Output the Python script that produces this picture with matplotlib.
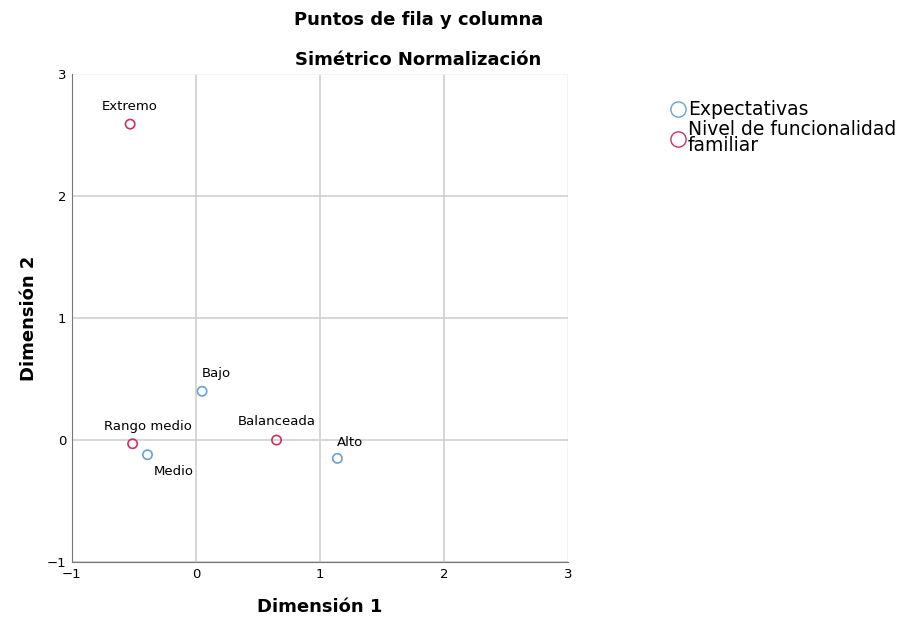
import matplotlib
matplotlib.use("Agg")
import matplotlib.pyplot as plt
from matplotlib.lines import Line2D

plt.rcParams['font.family'] = ['DejaVu Sans']

# Data
exp_labels = ["Bajo", "Medio", "Alto"]
exp_x = [0.05, -0.39, 1.14]
exp_y = [0.40, -0.12, -0.15]

fam_labels = ["Extremo", "Rango medio", "Balanceada"]
fam_x = [-0.53, -0.51, 0.65]
fam_y = [2.59, -0.03, 0.00]

legend_labels = ["Expectativas", "Nivel de funcionalidad\nfamiliar"]
blue = "#6a9fd8"
red = "#c8345e"

fig = plt.figure(figsize=(9.09, 6.28), dpi=100)
ax = fig.add_axes([0.079, 0.105, 0.546, 0.777])

ax.set_xlim(-1, 3)
ax.set_ylim(-1, 3)
ax.set_xticks([-1, 0, 1, 2, 3])
ax.set_yticks([-1, 0, 1, 2, 3])
ax.grid(True, color="#cfcfcf", linewidth=1.2)
ax.set_axisbelow(True)
# edge gridlines are very faint
ax.xaxis.get_gridlines()[-1].set_color("#f2f2f2")
ax.yaxis.get_gridlines()[-1].set_color("#f2f2f2")
for s in ["top", "right"]:
    ax.spines[s].set_visible(False)
for s in ["left", "bottom"]:
    ax.spines[s].set_color("#777777")
ax.tick_params(length=0, labelsize=9.5, pad=4)

ax.scatter(exp_x, exp_y, s=45, facecolors="none", edgecolors=blue, linewidths=1.2, zorder=3)
ax.scatter(fam_x, fam_y, s=45, facecolors="none", edgecolors=red, linewidths=1.2, zorder=3)

offsets = {
    "Bajo": (0.0, 8, "left"),
    "Medio": (0.05, -17, "left"),
    "Alto": (0.0, 7, "left"),
    "Extremo": (0.0, 8, "center"),
    "Rango medio": (0.12, 8, "center"),
    "Balanceada": (0.0, 9, "center"),
}
for lab, x, y in zip(exp_labels + fam_labels, exp_x + fam_x, exp_y + fam_y):
    dx, dy, ha = offsets[lab]
    ax.annotate(lab, (x + dx, y), xytext=(0, dy), textcoords="offset points",
                ha=ha, va="bottom", fontsize=9.5)

ax.set_xlabel("Dimensión 1", fontsize=13, fontweight="bold", labelpad=0)
ax.set_ylabel("Dimensión 2", fontsize=13, fontweight="bold", labelpad=6)
ax.xaxis.set_label_coords(0.5, -0.073)
ax.yaxis.set_label_coords(-0.069, 0.5)

fig.text(0.46, 0.968, "Puntos de fila y columna", ha="center", va="center",
         fontsize=13, fontweight="bold")
fig.text(0.46, 0.905, "Simétrico Normalización", ha="center", va="center",
         fontsize=13, fontweight="bold")

handles = [
    Line2D([], [], marker="o", linestyle="none", markerfacecolor="none",
           markeredgecolor=blue, markersize=11, markeredgewidth=1.0),
    Line2D([], [], marker="o", linestyle="none", markerfacecolor="none",
           markeredgecolor=red, markersize=11, markeredgewidth=1.0),
]
leg = fig.legend(handles, legend_labels, loc="upper left", bbox_to_anchor=(0.727, 0.852),
                 frameon=False, fontsize=13.5, handletextpad=0.05, labelspacing=0.05,
                 borderaxespad=0, handlelength=1.0)
for t in leg.get_texts():
    t.set_linespacing(0.8)

fig.savefig("out.png", dpi=100)
